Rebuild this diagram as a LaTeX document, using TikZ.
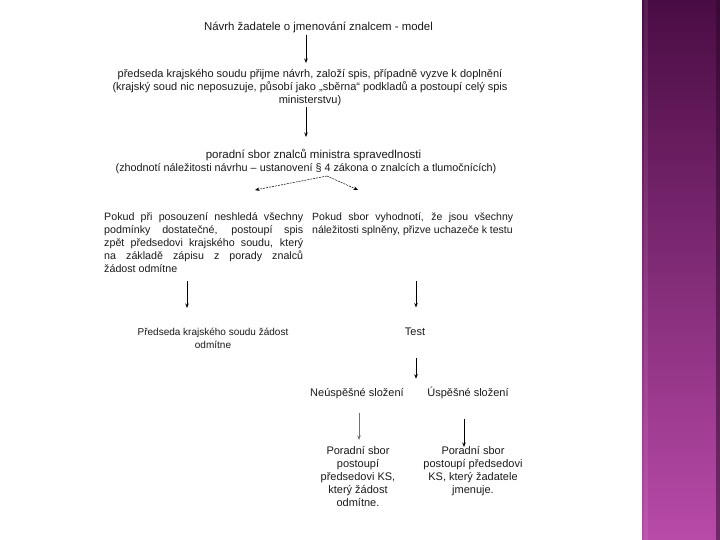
\documentclass[tikz,border=0pt]{standalone}
\usepackage{fontspec}
\setmainfont{Liberation Sans}
\usetikzlibrary{arrows.meta,calc}
\definecolor{txtc}{HTML}{1A1A1A}
\definecolor{bartop}{HTML}{4A0C44}
\definecolor{barbot}{HTML}{B84AA8}
\tikzset{
  txt/.style={inner sep=0pt, align=center, text=txtc},
  fs/.style={font=\fontsize{#1}{13}\selectfont},
  arr/.style={-{Stealth[length=4.5pt,width=3.5pt]}, line width=0.8pt, black},
  garr/.style={-{Stealth[length=4.5pt,width=3.5pt]}, line width=0.6pt, black!55},
  darr/.style={-{Stealth[length=4.5pt,width=3.5pt]}, line width=0.5pt, dash pattern=on 2pt off 1pt, black},
}
\begin{document}
\begin{tikzpicture}[x=1pt,y=-1pt]
\useasboundingbox (0,0) rectangle (720,540);
\fill[white] (0,0) rectangle (720,540);
\shade[top color=bartop, bottom color=barbot] (642,0) rectangle (720,540);
\fill[black!40!bartop, opacity=0.5] (716,0) rectangle (720,540);
\fill[white, opacity=0.08] (644,0) rectangle (648,540);

\coordinate (ax) at (306,0);
\coordinate (al) at (187,0);
\coordinate (ar) at (416,0);
\coordinate (bl) at (359,0);
\coordinate (br) at (464,0);

\node[txt, fs=11.4, anchor=north] (t1) at (318.5,22) {Návrh žadatele o jmenování znalcem - model};
\node[txt, fs=11, anchor=north] (t2) at (310,69.5) {předseda krajského soudu přijme návrh, založí spis, případně vyzve k doplnění\\(krajský soud nic neposuzuje, působí jako „sběrna“ podkladů a postoupí celý spis\\ministerstvu)};
\node[txt, fs=11.5, anchor=north] (t3) at (306,149.5) {\hspace*{15pt}poradní sbor znalců ministra spravedlnosti\\\fontsize{10.8}{13}\selectfont(zhodnotí náležitosti návrhu – ustanovení § 4 zákona o znalcích a tlumočnících)};

\draw[arr] ($(t1.south -| ax)+(0,1.5)$) -- ($(t2.north -| ax)+(0,-6.5)$);
\draw[arr] ($(t2.south -| ax)+(0,1)$) -- ($(t3.north -| ax)+(0,-12.5)$);

\coordinate (dtop) at (327,176);
\coordinate (dl) at (255,190);
\coordinate (dr) at (358,190);
\draw[darr] (dtop) -- (dl);
\draw[darr] (dtop) -- (dr);

\node[txt, fs=10.7, anchor=north west, align=left] (pl) at (104,212.5) {%
\makebox[199pt][s]{Pokud při posouzení neshledá všechny}\\
\makebox[199pt][s]{podmínky dostatečné, postoupí spis}\\
\makebox[199pt][s]{zpět předsedovi krajského soudu, který}\\
\makebox[199pt][s]{na základě zápisu z porady znalců}\\
žádost odmítne};
\node[txt, fs=10.5, anchor=north west, align=left] (pr) at (312,212.5) {%
\makebox[201pt][s]{Pokud sbor vyhodnotí, že jsou všechny}\\
náležitosti splněny, přizve uchazeče k testu};

\node[txt, fs=10, anchor=north] (zam) at (213,328) {Předseda krajského soudu žádost\\odmítne};
\node[txt, fs=11, anchor=north] (test) at (415,327.5) {Test};

\draw[arr] ($(pl.south -| al)+(0,8)$) -- ($(zam.north -| al)+(0,-20)$);
\draw[arr] ($(pl.south -| ar)+(0,8)$) -- ($(test.north -| ar)+(0,-20)$);

\node[txt, fs=11, anchor=base] (neu) at (357,396.5) {Neúspěšné složení};
\node[txt, fs=11, anchor=base] (usp) at (468,396.5) {Úspěšné složení};

\draw[arr] ($(test.south -| ar)+(0,22.5)$) -- ($(neu.north -| ar)+(0,-9.5)$);

\node[txt, fs=11, anchor=north] (nb) at (358,446.5) {Poradní sbor\\postoupí\\předsedovi KS,\\který žádost\\odmítne.};
\node[txt, fs=11, anchor=north] (ub) at (473,446.5) {Poradní sbor\\postoupí předsedovi\\KS, který žadatele\\jmenuje.};

\draw[garr] ($(neu.south -| bl)+(0,14)$) -- ($(nb.north -| bl)+(0,-6.5)$);
\draw[arr] ($(usp.south -| br)+(0,20)$) -- ($(ub.north -| br)+(0,0.5)$);
\end{tikzpicture}
\end{document}
